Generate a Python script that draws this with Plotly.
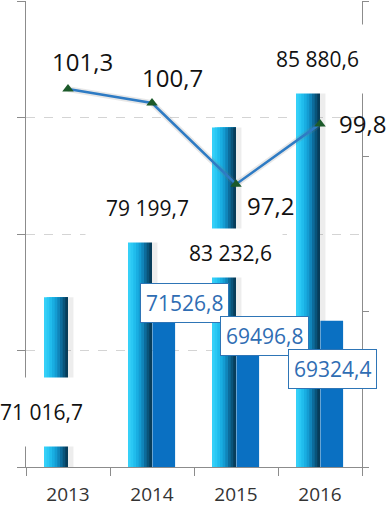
import plotly.graph_objects as go

years = ["2013", "2014", "2015", "2016"]
volume = [71016.7, 79199.7, 83232.6, 85880.6]
volume_labels = ["71 016,7", "79 199,7", "83 232,6", "85 880,6"]
years2 = ["2014", "2015", "2016"]
volume2 = [71526.8, 69496.8, 69324.4]
volume2_labels = ["71526,8", "69496,8", "69324,4"]
index_pct = [101.3, 100.7, 97.2, 99.8]
index_labels = ["101,3", "100,7", "97,2", "99,8"]

FONT = "Open Sans"
Y_RANGE = [58809, 92343]
Y2_RANGE = [85.0, 105.1]

fig = go.Figure()

# soft shadow right of cyan bars
fig.add_trace(go.Bar(x=years, y=volume, offset=0.0, width=0.065,
                     marker=dict(color="rgba(0,0,0,0.07)", line=dict(width=0)),
                     showlegend=False, hoverinfo="skip"))
# cyan cylindrical bars: layered gradient strips
bw = 0.2857
strip_colors = ["#35D0F8", "#2AC8F4", "#20BCEC", "#19AEE2", "#149CD2",
                "#1085BA", "#0C6C9C", "#09547A", "#073D5A"]
n = len(strip_colors)
sw = bw / n
for i, c in enumerate(strip_colors):
    fig.add_trace(go.Bar(x=years, y=volume, offset=-bw + i * sw, width=bw - i * sw,
                         marker=dict(color=c, line=dict(width=0)),
                         showlegend=False, hoverinfo="skip"))
# dark blue bars
fig.add_trace(go.Bar(x=years2, y=volume2, offset=0.005, width=0.27,
                     marker=dict(color="#0A70C2", line=dict(width=0)),
                     showlegend=False, hoverinfo="skip"))

# index line (with soft glow)
fig.add_trace(go.Scatter(x=years, y=index_pct, yaxis="y2", mode="lines",
                         line=dict(color="rgba(120,120,120,0.18)", width=6),
                         showlegend=False, hoverinfo="skip"))
fig.add_trace(go.Scatter(x=years, y=index_pct, yaxis="y2", mode="lines+markers",
                         line=dict(color="#2E7BC4", width=2.5),
                         marker=dict(symbol="triangle-up", size=10, color="#1C5A2A"),
                         showlegend=False, hoverinfo="skip"))

step = (Y_RANGE[1] - Y_RANGE[0]) / 4
step2 = (Y2_RANGE[1] - Y2_RANGE[0]) / 3

fig.update_layout(
    width=387, height=508,
    margin=dict(l=26, r=25, t=1, b=41, autoexpand=False),
    paper_bgcolor="white", plot_bgcolor="white",
    barmode="overlay",
    xaxis=dict(type="category", categoryorder="array", categoryarray=years,
               range=[-0.5, 3.5], showline=True, linecolor="#8C8C8C", linewidth=1,
               ticks="outside", tickson="boundaries", ticklen=8, tickcolor="#8C8C8C",
               tickfont=dict(family=FONT, size=19, color="#333333"),
               ticklabelstandoff=10, showgrid=False, zeroline=False, automargin=False),
    yaxis=dict(range=Y_RANGE,
               tickvals=[Y_RANGE[0] + i * step for i in range(5)], showticklabels=False,
               showgrid=True, gridcolor="#D4D4D4", griddash="dash", gridwidth=1,
               showline=True, linecolor="#8C8C8C", ticks="outside", ticklen=8,
               tickcolor="#8C8C8C", zeroline=False, automargin=False),
    yaxis2=dict(overlaying="y", side="right", range=Y2_RANGE,
                tickvals=[Y2_RANGE[0] + i * step2 for i in range(4)],
                showticklabels=False, showgrid=False, showline=True,
                linecolor="#8C8C8C", ticks="outside", ticklen=6,
                tickcolor="#8C8C8C", zeroline=False, automargin=False),
)

# cyan labels (white boxes)
cy_shift = [(-27, -115, 20), (-5, -24, 20), (-6, -125, 10), (-3, 32, 20)]
for i, (x, v, t) in enumerate(zip(years, volume, volume_labels)):
    dx, dy, pad = cy_shift[i]
    fig.add_annotation(x=i, y=v, xref="x", yref="y", text=t, showarrow=False,
                       xshift=dx, yshift=dy, bgcolor="white", borderpad=pad,
                       font=dict(family=FONT, size=21, color="#111111"))
# dark labels (bordered boxes)
dk_shift = [(32, -13), (28.5, -17.5), (12.5, -48)]
for j, (x, v, t) in enumerate(zip(years2, volume2, volume2_labels)):
    dx, dy = dk_shift[j]
    fig.add_annotation(x=years.index(x), y=v, xref="x", yref="y", text=t, showarrow=False,
                       xshift=dx, yshift=dy, bgcolor="white", borderpad=5,
                       bordercolor="#2E75B6", borderwidth=1,
                       font=dict(family=FONT, size=21, color="#2F6DB3"))
# index labels
ix_shift = [(14, 28), (20.5, 26), (34, -21.5), (42, 0)]
for i, (x, v, t) in enumerate(zip(years, index_pct, index_labels)):
    dx, dy = ix_shift[i]
    fig.add_annotation(x=i, y=v, xref="x", yref="y2", text=t, showarrow=False,
                       xshift=dx, yshift=dy,
                       font=dict(family=FONT, size=24, color="#111111"))

fig.write_html("out.html", config={"displayModeBar": False},
               post_script="document.body.style.margin='0';")
